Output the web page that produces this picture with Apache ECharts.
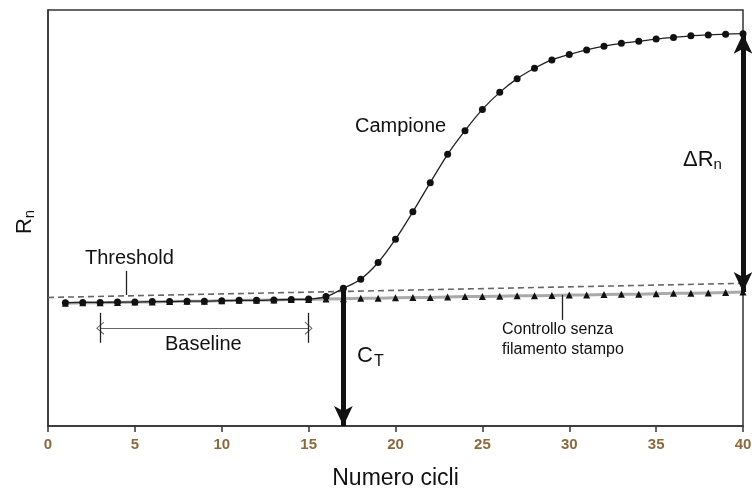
<!DOCTYPE html>
<html>
<head>
<meta charset="utf-8">
<script src="https://cdn.jsdelivr.net/npm/echarts@6/dist/echarts.min.js"></script>
<style>
  html, body { margin: 0; padding: 0; background: #fff; }
  #main { width: 752px; height: 491px; }
</style>
</head>
<body>
<div id="main"></div>
<script>
// dati (asse y senza unita', scala 0-100)
var cicli = [1, 2, 3, 4, 5, 6, 7, 8, 9, 10, 11, 12, 13, 14, 15, 16, 17, 18, 19, 20,
             21, 22, 23, 24, 25, 26, 27, 28, 29, 30, 31, 32, 33, 34, 35, 36, 37, 38, 39, 40];
var campione = [29.6, 29.7, 29.7, 29.8, 29.8, 29.9, 29.9, 30.0, 30.0, 30.1,
                30.2, 30.2, 30.3, 30.4, 30.5, 31.1, 33.1, 35.3, 39.3, 44.9,
                51.5, 58.5, 65.3, 71.0, 76.1, 80.2, 83.5, 86.0, 88.0, 89.3,
                90.4, 91.3, 92.0, 92.5, 93.0, 93.4, 93.8, 94.0, 94.2, 94.3];
var controllo = [29.5, 29.6, 29.6, 29.7, 29.8, 29.8, 29.9, 30.0, 30.0, 30.1,
                 30.2, 30.2, 30.3, 30.4, 30.4, 30.5, 30.6, 30.7, 30.7, 30.8,
                 30.9, 30.9, 31.0, 31.1, 31.1, 31.2, 31.3, 31.3, 31.4, 31.5,
                 31.5, 31.6, 31.7, 31.7, 31.8, 31.9, 31.9, 32.0, 32.1, 32.2];
var threshold = [[0, 30.9], [40, 34.3]];
var xTicks = [0, 5, 10, 15, 20, 25, 30, 35, 40];

// annotazioni (coordinate nei dati)
var ctCiclo = 17, ctTop = 33.1;
var deltaTop = 94.3, deltaBottom = 32.2;
var baselineStart = 3, baselineEnd = 15, baselineY = 23.5, baselineBarTop = 27.2, baselineBarBottom = 20.0;
var thresholdLeader = [4.53, 37.3, 31.5];
var controlloLeader = [29.57, 31.5, 25.5];

var chevron = 'path://M0,0 L6,10 L5.2,10.8 L0,2 L-5.2,10.8 L-6,10 Z';
var font = 'Liberation Sans, Arial, sans-serif';

var myChart = echarts.init(document.getElementById('main'));

var option = {
    animation: false,
    grid: {
        left: 48, right: 9, top: 10, bottom: 65,
        outerBoundsMode: 'none',
        show: true, borderColor: '#333', borderWidth: 1.5
    },
    xAxis: {
        type: 'value', min: 0, max: 40, interval: 5,
        name: 'Numero cicli', nameLocation: 'middle', nameGap: 41,
        nameTextStyle: { fontFamily: font, fontSize: 23, color: '#111' },
        axisLine: { lineStyle: { color: '#333', width: 1.5 } },
        axisTick: { show: true, length: 6, lineStyle: { color: '#333', width: 1.5 } },
        axisLabel: {
            fontFamily: font, fontSize: 15, fontWeight: 'bold', color: '#8c6a3e', margin: 11,
            formatter: function (v) { return xTicks.indexOf(v) >= 0 ? String(v) : ''; }
        },
        splitLine: { show: false }
    },
    yAxis: {
        type: 'value', min: 0, max: 100,
        name: '{r|R}{s|n}', nameLocation: 'middle', nameGap: 11, nameRotate: 90,
        nameTextStyle: {
            padding: [0, 8, 0, 0],
            rich: {
                r: { fontFamily: font, fontSize: 22, color: '#111' },
                s: { fontFamily: font, fontSize: 15, color: '#111', verticalAlign: 'bottom', padding: [9, 0, 0, 0] }
            }
        },
        axisLine: { show: true, lineStyle: { color: '#333', width: 1.5 } },
        axisTick: { show: false },
        axisLabel: { show: false },
        splitLine: { show: false }
    },
    series: [
        {
            name: 'Threshold',
            type: 'line',
            data: threshold,
            symbol: 'none',
            lineStyle: { color: '#666', width: 1.6, type: [6, 4] },
            z: 1
        },
        {
            name: 'Controllo senza filamento stampo',
            type: 'line',
            data: cicli.map(function (c, i) { return [c, controllo[i]]; }),
            symbol: 'triangle', symbolSize: 7,
            itemStyle: { color: '#111' },
            lineStyle: { color: '#aaa', width: 3 },
            z: 2
        },
        {
            name: 'Campione',
            type: 'line',
            data: cicli.map(function (c, i) { return [c, campione[i]]; }),
            smooth: 0.3,
            symbol: 'circle', symbolSize: 7,
            itemStyle: { color: '#111' },
            lineStyle: { color: '#222', width: 1.3 },
            z: 3,
            markLine: {
                silent: true,
                animation: false,
                label: { show: false },
                data: [
                    // C_T
                    [{ coord: [ctCiclo, ctTop], symbol: 'none', lineStyle: { color: '#111', width: 5, type: 'solid' } },
                     { coord: [ctCiclo, 0], symbol: 'arrow', symbolSize: [14, 20] }],
                    // delta Rn
                    [{ coord: [40, deltaTop], symbol: 'arrow', symbolSize: [14, 20], lineStyle: { color: '#111', width: 5, type: 'solid' } },
                     { coord: [40, deltaBottom], symbol: 'arrow', symbolSize: [14, 20] }],
                    // baseline
                    [{ coord: [baselineStart, baselineY], symbol: chevron, symbolSize: [13, 8], lineStyle: { color: '#666', width: 1.2, type: 'solid' } },
                     { coord: [baselineEnd, baselineY], symbol: chevron, symbolSize: [13, 8] }],
                    [{ coord: [baselineStart, baselineBarTop], symbol: 'none', lineStyle: { color: '#222', width: 1.3, type: 'solid' } },
                     { coord: [baselineStart, baselineBarBottom], symbol: 'none' }],
                    [{ coord: [baselineEnd, baselineBarTop], symbol: 'none', lineStyle: { color: '#222', width: 1.3, type: 'solid' } },
                     { coord: [baselineEnd, baselineBarBottom], symbol: 'none' }],
                    // linee guida delle etichette
                    [{ coord: [thresholdLeader[0], thresholdLeader[1]], symbol: 'none', lineStyle: { color: '#222', width: 1.3, type: 'solid' } },
                     { coord: [thresholdLeader[0], thresholdLeader[2]], symbol: 'none' }],
                    [{ coord: [controlloLeader[0], controlloLeader[1]], symbol: 'none', lineStyle: { color: '#222', width: 1.3, type: 'solid' } },
                     { coord: [controlloLeader[0], controlloLeader[2]], symbol: 'none' }]
                ]
            }
        }
    ],
    graphic: [
        { type: 'text', left: 355, top: 116, style: { text: 'Campione', font: '20px ' + font, fill: '#111' } },
        { type: 'text', left: 85, top: 248, style: { text: 'Threshold', font: '20px ' + font, fill: '#111' } },
        { type: 'text', left: 165, top: 334, style: { text: 'Baseline', font: '20px ' + font, fill: '#111' } },
        {
            type: 'text', left: 357, top: 345,
            style: {
                text: '{a|C}{b|T}',
                rich: {
                    a: { font: '22px ' + font, fill: '#111' },
                    b: { font: '16px ' + font, fill: '#111', padding: [11, 0, 0, 1] }
                }
            }
        },
        {
            type: 'text', left: 683, top: 149,
            style: {
                text: '{a|\u0394R}{b|n}',
                rich: {
                    a: { font: '22px ' + font, fill: '#111' },
                    b: { font: '15px ' + font, fill: '#111', padding: [10, 0, 0, 0] }
                }
            }
        },
        {
            type: 'text', left: 502, top: 320,
            style: {
                text: 'Controllo senza\nfilamento stampo', align: 'center',
                font: '16px ' + font, fill: '#111', lineHeight: 20
            }
        }
    ]
};

myChart.setOption(option);
</script>
</body>
</html>
